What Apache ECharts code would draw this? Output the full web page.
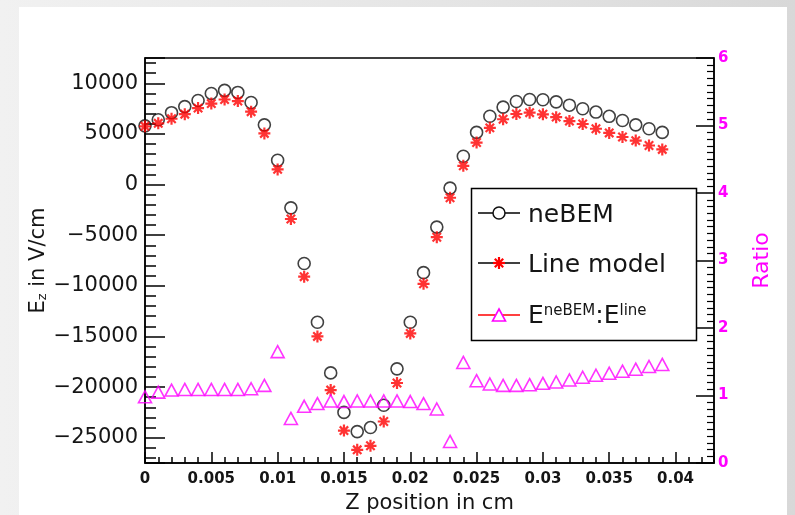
<!DOCTYPE html>
<html>
<head>
<meta charset="utf-8">
<script src="https://cdn.jsdelivr.net/npm/echarts@6/dist/echarts.min.js"></script>
<style>
  html, body { margin: 0; padding: 0; }
  body { width: 795px; height: 515px; position: relative; overflow: hidden;
         background: linear-gradient(to right, #f1f1f1, #e4e4e4 60%, #d8d8d8); }
  #sheet { position: absolute; left: 19px; top: 7px; width: 768px; height: 508px; background: #fff; }
  #chart { position: absolute; left: 0; top: 0; width: 795px; height: 515px; }
</style>
</head>
<body>
<div id="sheet"></div>
<div id="chart"></div>
<script>
// Z position (cm) of each sample
const zPos = [
  0, 0.001, 0.002, 0.003, 0.004, 0.005, 0.006, 0.007, 0.008, 0.009,
  0.010, 0.011, 0.012, 0.013, 0.014, 0.015, 0.016, 0.017, 0.018, 0.019,
  0.020, 0.021, 0.022, 0.023, 0.024, 0.025, 0.026, 0.027, 0.028, 0.029,
  0.030, 0.031, 0.032, 0.033, 0.034, 0.035, 0.036, 0.037, 0.038, 0.039
];

// Ez from neBEM (V/cm)
const neBEM = [
  5800, 6400, 7100, 7700, 8300, 9000, 9300, 9100, 8100, 5900,
  2400, -2300, -7800, -13600, -18600, -22500, -24400, -24000, -21800, -18200,
  -13600, -8700, -4200, -350, 2800, 5150, 6750, 7650, 8200, 8400,
  8380, 8170, 7840, 7490, 7160, 6740, 6330, 5900, 5510, 5150
];

// Ez from the line model (V/cm)
const lineModel = [
  5750, 6050, 6500, 6950, 7550, 8000, 8400, 8250, 7200, 5050,
  1500, -3400, -9100, -15000, -20300, -24300, -26200, -25800, -23400, -19600,
  -14700, -9800, -5200, -1300, 1850, 4150, 5600, 6450, 6970, 7100,
  6940, 6660, 6270, 5980, 5510, 5100, 4700, 4340, 3860, 3470
];

// ratio neBEM : line (right axis)
const ratio = [
  0.98, 1.05, 1.08, 1.09, 1.09, 1.09, 1.09, 1.09, 1.10, 1.15,
  1.65, 0.66, 0.84, 0.88, 0.92, 0.91, 0.92, 0.92, 0.92, 0.92,
  0.91, 0.88, 0.80, 0.32, 1.49, 1.22, 1.17, 1.15, 1.15, 1.16,
  1.18, 1.20, 1.23, 1.27, 1.30, 1.33, 1.36, 1.39, 1.43, 1.46
];

const legendNames = ['neBEM', 'Line model'];

const FONT = 'DejaVu Sans';
const INK = '#151515';
const MAGENTA = '#ff00ff';
const STAR = 'path://M0,6L12,6M6,0L6,12M1.8,1.8L10.2,10.2M10.2,1.8L1.8,10.2';

const chart = echarts.init(document.getElementById('chart'), null, { renderer: 'canvas' });

const pairs = (vals) => zPos.map((z, i) => [z, vals[i]]);
const minus = (v) => (v < 0 ? '\u2212' + Math.abs(v) : String(v));

// little asterisk for the legend, built from 4 strokes
const starLines = (cx, cy, r) => {
  const d = r * 0.7;
  return [[-r, 0, r, 0], [0, -r, 0, r], [-d, -d, d, d], [d, -d, -d, d]].map(s => ({
    type: 'line',
    shape: { x1: cx + s[0], y1: cy + s[1], x2: cx + s[2], y2: cy + s[3] },
    style: { stroke: '#ff0000', lineWidth: 2.2 }
  }));
};

chart.setOption({
  animation: false,
  backgroundColor: 'transparent',
  textStyle: { fontFamily: FONT, color: INK },
  grid: {
    left: 145, right: 81, top: 58, bottom: 52,
    outerBoundsMode: 'none', containLabel: false,
    show: true, borderColor: '#000', borderWidth: 1.5, backgroundColor: 'transparent'
  },
  xAxis: {
    type: 'value', min: 0, max: 0.0429, interval: 0.005,
    name: 'Z position in cm', nameLocation: 'middle', nameGap: 30, nameMoveOverlap: false,
    nameTextStyle: { fontFamily: FONT, fontSize: 21, color: INK },
    axisLine: { show: true, onZero: false, lineStyle: { color: '#000', width: 1.5 } },
    axisTick: { inside: true, length: 11, lineStyle: { color: '#000', width: 1.5 } },
    minorTick: { show: true, splitNumber: 5, length: 6, lineStyle: { color: '#000', width: 1.5 } },
    axisLabel: { fontFamily: FONT, fontSize: 15, fontWeight: 'bold', color: INK, margin: 9,
                 showMaxLabel: false },
    splitLine: { show: false }
  },
  yAxis: [
    {
      type: 'value', position: 'left', min: -27500, max: 12500, splitNumber: 8,
      name: '{a|E}{s|z}{a| in V/cm}', nameLocation: 'middle', nameGap: 96, nameMoveOverlap: false,
      nameTextStyle: {
        color: INK,
        rich: {
          a: { fontFamily: FONT, fontSize: 21, color: INK },
          s: { fontFamily: FONT, fontSize: 13, color: INK, verticalAlign: 'bottom' }
        }
      },
      axisLine: { show: true, onZero: false, lineStyle: { color: '#000', width: 1.5 } },
      axisTick: { inside: true, length: 20, lineStyle: { color: '#000', width: 1.5 } },
      minorTick: { show: true, splitNumber: 5, length: 11, lineStyle: { color: '#000', width: 1.5 } },
      axisLabel: { fontFamily: FONT, fontSize: 21, color: INK, margin: 7,
                   showMinLabel: false, showMaxLabel: false, formatter: minus },
      splitLine: { show: false }
    },
    {
      type: 'value', position: 'right', min: 0, max: 6, interval: 1,
      name: 'Ratio', nameLocation: 'middle', nameGap: 37, nameRotate: 90, nameMoveOverlap: false,
      nameTextStyle: { fontFamily: FONT, fontSize: 22, color: MAGENTA },
      axisLine: { show: true, onZero: false, lineStyle: { color: '#000', width: 1.5 } },
      axisTick: { inside: true, length: 18, lineStyle: { color: '#000', width: 1.5 } },
      minorTick: { show: true, splitNumber: 10, length: 7, lineStyle: { color: '#000', width: 1.2 } },
      axisLabel: { fontFamily: FONT, fontSize: 15, fontWeight: 'bold', color: MAGENTA, margin: 4 },
      splitLine: { show: false }
    }
  ],
  series: [
    {
      name: legendNames[0], type: 'scatter', yAxisIndex: 0,
      data: pairs(neBEM), symbol: 'circle', symbolSize: 12,
      itemStyle: { color: 'rgba(0,0,0,0)', borderColor: '#111', borderWidth: 1.6 },
      z: 2
    },
    {
      name: legendNames[1], type: 'scatter', yAxisIndex: 0,
      data: pairs(lineModel), symbol: STAR, symbolSize: 12,
      itemStyle: { color: '#ff0000', borderColor: '#ff0000', borderWidth: 2.2 },
      z: 3
    },
    {
      name: 'ratio', type: 'scatter', yAxisIndex: 1,
      data: pairs(ratio), symbol: 'triangle', symbolSize: [13, 12],
      itemStyle: { color: 'rgba(0,0,0,0)', borderColor: MAGENTA, borderWidth: 1.6 },
      z: 4
    }
  ],
  graphic: [
    {
      type: 'group', z: 100,
      children: [
        { type: 'rect', shape: { x: 471.5, y: 188.5, width: 225, height: 152 },
          style: { fill: '#fff', stroke: '#000', lineWidth: 1.5 } },
        // neBEM entry
        { type: 'line', shape: { x1: 478, y1: 213, x2: 520, y2: 213 }, style: { stroke: '#000', lineWidth: 1.5 } },
        { type: 'circle', shape: { cx: 499, cy: 213, r: 6 }, style: { fill: '#fff', stroke: '#111', lineWidth: 1.5 } },
        { type: 'text', x: 528, y: 215, style: { text: legendNames[0], fontFamily: FONT, fontSize: 25, fill: INK, verticalAlign: 'middle' } },
        // line model entry
        { type: 'line', shape: { x1: 478, y1: 263, x2: 520, y2: 263 }, style: { stroke: '#000', lineWidth: 1.5 } },
        ...starLines(499, 263, 6),
        { type: 'text', x: 528, y: 265, style: { text: legendNames[1], fontFamily: FONT, fontSize: 25, fill: INK, verticalAlign: 'middle' } },
        // ratio entry
        { type: 'line', shape: { x1: 478, y1: 315, x2: 520, y2: 315 }, style: { stroke: '#ff0000', lineWidth: 1.5 } },
        { type: 'polygon', shape: { points: [[499, 309], [505.5, 321], [492.5, 321]] },
          style: { fill: '#fff', stroke: MAGENTA, lineWidth: 1.6 } },
        { type: 'text', x: 528, y: 316, style: {
            text: 'E{s|neBEM}:E{s|line}', fontFamily: FONT, fontSize: 25, fill: INK, verticalAlign: 'middle',
            rich: { s: { fontFamily: FONT, fontSize: 15, fill: INK, verticalAlign: 'top' } }
          } }
      ]
    }
  ]
});
</script>
</body>
</html>
